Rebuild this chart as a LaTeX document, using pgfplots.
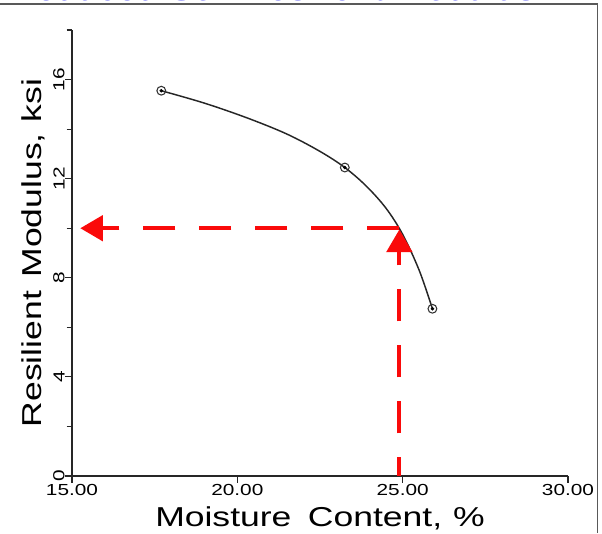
\documentclass[border=0pt]{standalone}
\usepackage{pgfplots}
\pgfplotsset{compat=1.18}
\usepackage{fontspec}
\setmainfont{Liberation Sans}
\newfontfamily\plotfont[FakeStretch=1.3]{Liberation Sans}
\usetikzlibrary{arrows.meta}

\definecolor{linkblue}{RGB}{20,20,235}
\definecolor{arrowred}{RGB}{250,10,10}

% curve
\pgfplotstableread{
x     y
17.70 15.55
19.00 15.05
20.30 14.45
21.50 13.80
22.50 13.10
23.25 12.45
23.90 11.70
24.50 10.80
25.00 9.75
25.50 8.30
25.90 6.75
}\curvedata

\pgfplotstableread{
x     y
17.70 15.55
23.25 12.45
25.90 6.75
}\pointdata

\begin{document}
\begin{tikzpicture}
\useasboundingbox (0,0) rectangle (451.5pt,399.75pt);
% frame of the original screenshot
\draw[gray!70!black, line width=1pt] (0,396.8pt) -- (448pt,396.8pt) -- (448pt,0);
\node[anchor=base west, inner sep=0pt, text=linkblue, font=\itshape\fontsize{28}{30}\selectfont]
  at (7.5pt,399pt) {Reduced Soil Resilient Modulus};

\begin{axis}[
    at={(54pt,42.75pt)}, anchor=south west,
    scale only axis,
    width=372pt, height=334.5pt,
    xmin=15, xmax=30,
    ymin=0, ymax=18,
    axis x line=bottom,
    axis y line=left,
    axis line style={-, line width=0.9pt, black!85},
    xtick={15,20,25,30},
    ytick={0,4,8,12,16},
    minor ytick={2,6,10,14,18},
    tick align=outside,
    major tick length=5pt,
    minor tick length=4pt,
    tick style={black!85, line width=0.8pt},
    xticklabel style={font=\plotfont\fontsize{12}{12}\selectfont, yshift=2pt},
    yticklabel style={font=\plotfont\fontsize{12}{12}\selectfont, rotate=90, anchor=south},
    yticklabel shift=-3pt,
    /pgf/number format/assume math mode=true,
    xticklabel={\pgfmathprintnumber[fixed, fixed zerofill, precision=2]{\tick}},
    xlabel={\plotfont Moisture\hspace{0.6em}Content,\hspace{0.4em}\%},
    ylabel={\plotfont Resilient\hspace{0.5em}Modulus,\hspace{0.4em}ksi},
    label style={font=\fontsize{20.5}{21}\selectfont},
    xlabel style={yshift=-1pt},
    ylabel style={yshift=-1pt},
    clip=false,
]
\addplot[black!85, line width=1.1pt, smooth, tension=0.55] table[x=x, y=y] {\curvedata};
\addplot[only marks, mark=o, mark size=3.3pt, black!80, mark options={line width=0.8pt}] table[x=x, y=y] {\pointdata};
\addplot[only marks, mark=*, mark size=1.1pt, black] table[x=x, y=y] {\pointdata};

% red guide arrows
\addplot[arrowred, line width=3pt, dash pattern=on 24pt off 18pt,
  -{Triangle[length=17pt, width=19pt]}] coordinates {(24.9,10.0) (15.25,10.0)};
\addplot[arrowred, line width=3pt, dash pattern=on 24pt off 18pt, dash phase=10pt,
  -{Triangle[length=17pt, width=19pt]}] coordinates {(24.9,0) (24.9,9.95)};
\end{axis}
\end{tikzpicture}
\end{document}
